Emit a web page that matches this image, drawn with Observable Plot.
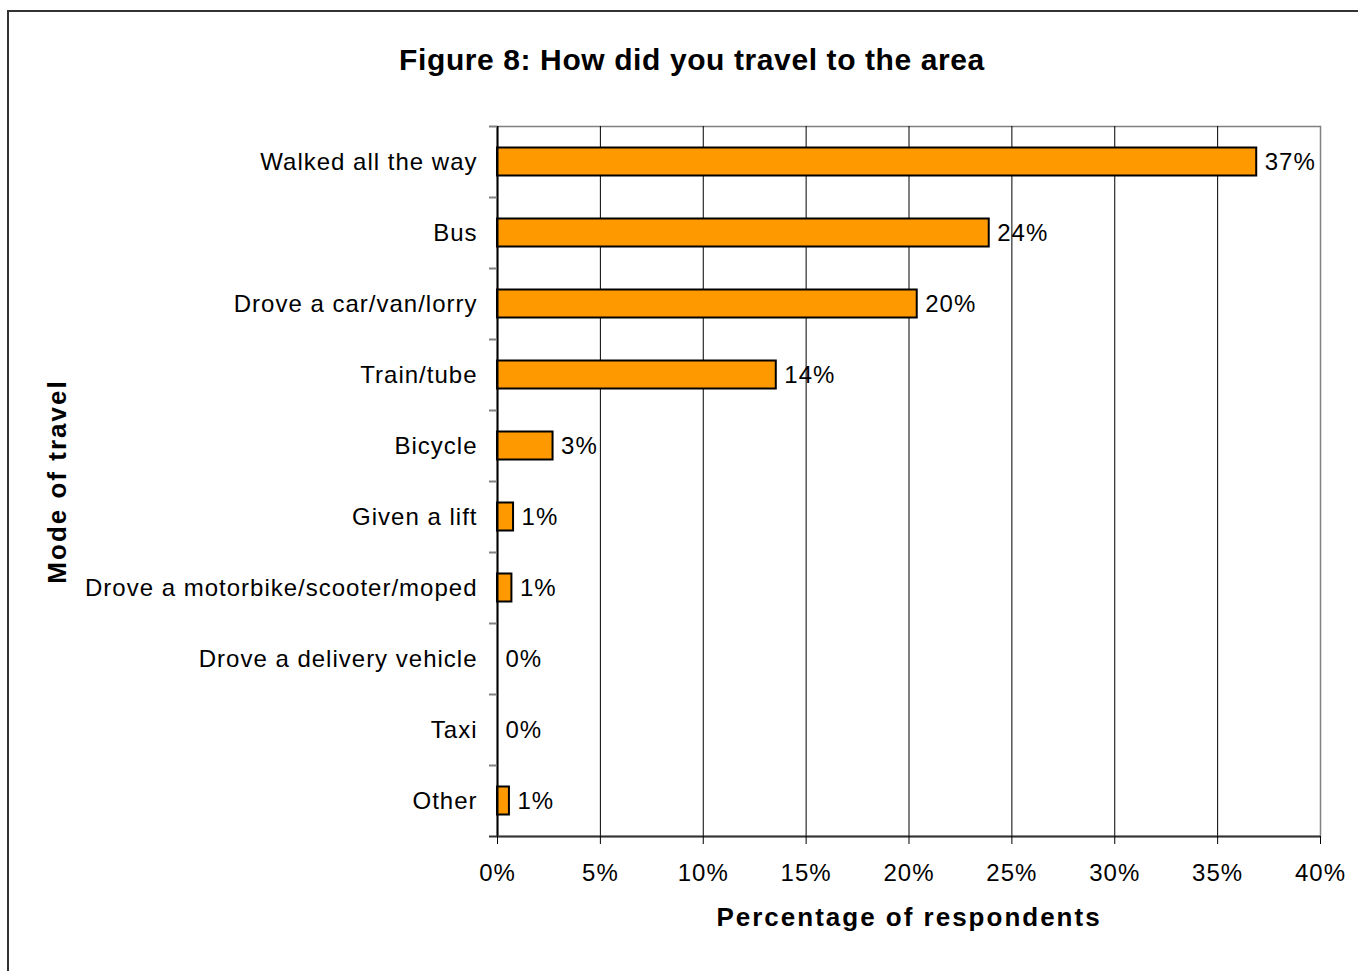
<!DOCTYPE html>
<html>
<head>
<meta charset="utf-8">
<script src="https://cdn.jsdelivr.net/npm/d3@7"></script>
<script src="https://cdn.jsdelivr.net/npm/@observablehq/plot@0.6"></script>
<style>
  html, body { margin: 0; padding: 0; background: #fff; }
  #wrap { position: relative; width: 1358px; height: 971px; overflow: hidden; background: #fff;
          font-family: "Liberation Sans", Arial, sans-serif; }
  #title { position: absolute; left: 0; top: 42px; width: 1384px; text-align: center;
           font-size: 30px; font-weight: bold; letter-spacing: 0.6px; line-height: 36px; color: #000; }
  #chart { position: absolute; left: 0; top: 100px; }
  #border { position: absolute; left: 7px; top: 10px; width: 1400px; height: 1000px;
            border: 2px solid #333; pointer-events: none; }
  #chart svg text { letter-spacing: 1px; }
  #chart svg g[font-weight="bold"] text { letter-spacing: 2px; }
</style>
</head>
<body>
<div id="wrap">
  <div id="title">Figure 8: How did you travel to the area</div>
  <div id="chart"></div>
  <div id="border"></div>
</div>
<script>
const modes = [
  "Walked all the way",
  "Bus",
  "Drove a car/van/lorry",
  "Train/tube",
  "Bicycle",
  "Given a lift",
  "Drove a motorbike/scooter/moped",
  "Drove a delivery vehicle",
  "Taxi",
  "Other"
];
const percents = [36.9, 23.9, 20.4, 13.55, 2.7, 0.78, 0.7, 0, 0, 0.58];
const valueLabels = ["37%", "24%", "20%", "14%", "3%", "1%", "1%", "0%", "0%", "1%"];
const xTicks = [0, 5, 10, 15, 20, 25, 30, 35, 40];
const gridTicks = [5, 10, 15, 20, 25, 30, 35];

const data = modes.map((m, i) => ({mode: m, value: percents[i], label: valueLabels[i]}));

const W = 1358, H = 871;
const mT = 26, mB = 135, mL = 497, mR = 38;
const band = (H - mT - mB) / modes.length;
const font = "Liberation Sans, Arial, sans-serif";

const chart = Plot.plot({
  width: W,
  height: H,
  marginTop: mT,
  marginBottom: mB,
  marginLeft: mL,
  marginRight: mR,
  style: {fontFamily: font, color: "#000", background: "transparent"},
  x: {domain: [0, 40]},
  y: {domain: modes, padding: 0},
  marks: [
    Plot.frame({stroke: "#808080", strokeWidth: 1.5}),
    Plot.ruleX(gridTicks, {stroke: "#000", strokeWidth: 1}),
    Plot.barX(data, {x: "value", y: "mode", fill: "#FF9900", stroke: "#000", strokeWidth: 2,
                     insetTop: 21.5, insetBottom: 21.5}),
    Plot.ruleX([0], {stroke: "#000", strokeWidth: 2}),
    Plot.ruleY([modes[modes.length - 1]], {dy: band / 2, stroke: "#333", strokeWidth: 2}),
    Plot.axisY({ticks: modes, tickSize: 8, dy: -band / 2, tickFormat: () => "", stroke: "#808080", strokeWidth: 2, label: null}),
    Plot.axisY({ticks: [modes[modes.length - 1]], tickSize: 8, dy: band / 2, tickFormat: () => "", stroke: "#333", strokeWidth: 2, label: null}),
    Plot.axisY({tickSize: 0, tickPadding: 20, fontSize: 24, label: null}),
    Plot.axisX({ticks: xTicks, tickSize: 8, tickPadding: 19, tickFormat: d => d + "%", fontSize: 24, stroke: "#000", label: null}),
    Plot.text(data, {x: "value", y: "mode", text: "label", textAnchor: "start", dx: 8, fontSize: 24, fill: "#000"}),
    Plot.text(["Percentage of respondents"], {frameAnchor: "bottom", textAnchor: "middle", dy: 89, fontSize: 26, fontWeight: "bold", fill: "#000"}),
    Plot.text(["Mode of travel"], {frameAnchor: "left", textAnchor: "middle", dx: -440, rotate: -90, fontSize: 26, fontWeight: "bold", fill: "#000"})
  ]
});
document.getElementById("chart").appendChild(chart);
</script>
</body>
</html>
